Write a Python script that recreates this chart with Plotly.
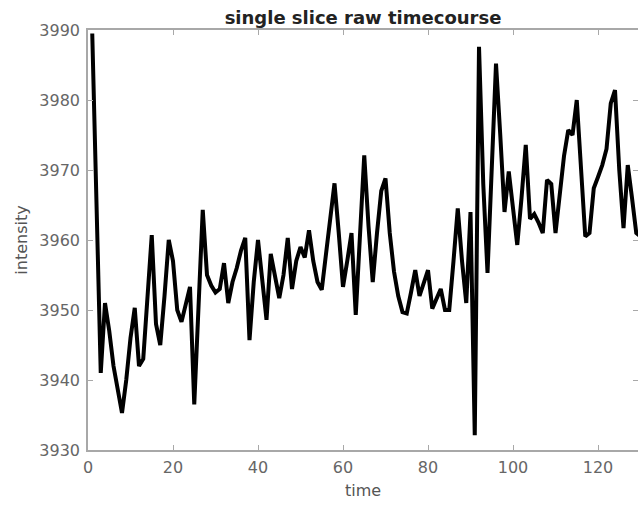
import plotly.graph_objects as go

time = list(range(1, 131))
intensity = [
    3989.5, 3965, 3941, 3951, 3947, 3942, 3939, 3935.3, 3940, 3946,
    3950.3, 3942, 3943, 3951, 3960.7, 3948, 3945, 3952, 3960, 3957,
    3950, 3948.3, 3951, 3953.3, 3936.5, 3950, 3964.3, 3955, 3953.5, 3952.5,
    3953, 3956.7, 3951, 3954, 3956, 3958.5, 3960.3, 3945.7, 3954, 3960,
    3954, 3948.6, 3958, 3955, 3951.7, 3955, 3960.3, 3953, 3957, 3959,
    3957.5, 3961.4, 3957, 3954, 3952.9, 3958, 3963.5, 3968.1, 3961, 3953.3,
    3957, 3961, 3949.3, 3960, 3972.1, 3962, 3954, 3961, 3967, 3968.8,
    3961, 3955.5, 3952, 3949.7, 3949.5, 3952.5, 3955.7, 3952, 3954, 3955.7,
    3950.2, 3951.5, 3953, 3950, 3950, 3957, 3964.5, 3957, 3951, 3964,
    3932.1, 3987.6, 3968, 3955.3, 3970, 3985.2, 3975, 3964, 3969.8, 3964,
    3959.3, 3966, 3973.6, 3963, 3963.7, 3962.5, 3961, 3968.6, 3968, 3961,
    3966, 3972, 3975.7, 3975, 3980, 3970, 3960.5, 3961, 3967.4, 3969,
    3970.7, 3973, 3979.5, 3981.4, 3970, 3961.7, 3970.7, 3966, 3961, 3960.5,
]

x_ticks = [0, 20, 40, 60, 80, 100, 120]
y_ticks = [3930, 3940, 3950, 3960, 3970, 3980, 3990]

fig = go.Figure()
fig.add_trace(go.Scatter(
    x=time, y=intensity, mode="lines",
    line=dict(color="black", width=4),
    showlegend=False, hoverinfo="skip",
))

axis_common = dict(
    showgrid=False, zeroline=False, automargin=False,
    showline=True, linecolor="#a8a8a8", linewidth=1.5,
    mirror="allticks", ticks="inside", ticklen=5, tickcolor="#a8a8a8",
    tickfont=dict(family="DejaVu Sans", size=16, color="#666666"),
)

fig.update_layout(
    width=638, height=505,
    margin=dict(l=88, r=0, t=30, b=55),
    paper_bgcolor="white", plot_bgcolor="white",
    title=dict(text="<b>single slice raw timecourse</b>", x=0.5, xanchor="center",
               xref="paper", y=1 - 18 / 505, yanchor="middle", automargin=False,
               font=dict(family="DejaVu Sans", size=18, color="#222222")),
    xaxis=dict(range=[0, 129.41], tickvals=x_ticks, title=dict(text="time", standoff=9,
               font=dict(family="DejaVu Sans", size=16, color="#555555")),
               ticklabelstandoff=2, **axis_common),
    yaxis=dict(range=[3930, 3990], tickvals=y_ticks, title=dict(text="intensity", standoff=8,
               font=dict(family="DejaVu Sans", size=16, color="#555555")),
               ticklabelstandoff=3, **axis_common),
)

fig.write_html("out.html", config={"displayModeBar": False},
               post_script="document.body.style.margin='0';document.body.style.overflow='hidden';")
